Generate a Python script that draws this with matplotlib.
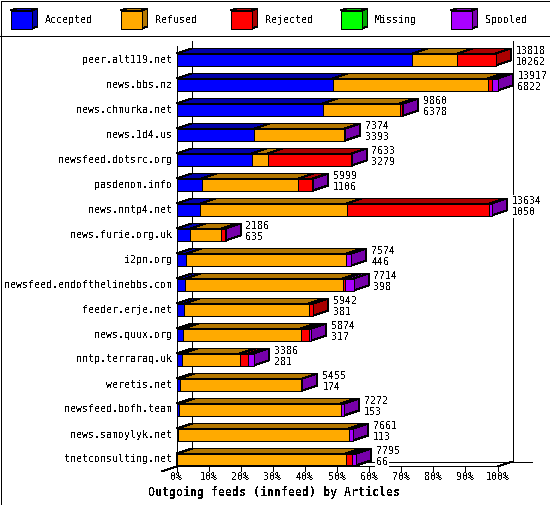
import matplotlib
matplotlib.use("Agg")
import matplotlib.pyplot as plt
from matplotlib.patches import Polygon, Rectangle

plt.rcParams['font.family'] = 'DejaVu Sans Mono'
plt.rcParams['text.antialiased'] = False

hosts = ["peer.alt119.net", "news.bbs.nz", "news.chmurka.net", "news.1d4.us",
         "newsfeed.dotsrc.org", "pasdenom.info", "news.nntp4.net", "news.furie.org.uk",
         "i2pn.org", "newsfeed.endofthelinebbs.com", "feeder.erje.net", "news.quux.org",
         "nntp.terraraq.uk", "weretis.net", "newsfeed.bofh.team", "news.samoylyk.net",
         "tnetconsulting.net"]
accepted = [73.5, 48.6, 45.5, 24.2, 23.4, 7.8, 7.4, 4.3, 3.0, 2.7, 2.4, 2.1, 1.7, 1.0, 0.8, 0.4, 0.2]
refused = [14.0, 48.3, 24.0, 28.3, 5.0, 30.2, 45.6, 9.7, 49.9, 49.1, 38.8, 36.7, 18.1, 38.2, 50.4, 53.2, 52.5]
rejected = [12.0, 1.5, 1.2, 0, 26.2, 4.5, 44.5, 1.3, 0, 0.7, 1.4, 2.5, 2.5, 0, 0, 0, 1.9]
missing = [0] * 17
spooled = [0, 1.6, 0.01, 0.01, 0.01, 0.01, 0.7, 0.01, 1.5, 2.7, 0, 0.7, 1.8, 0.01, 1.0, 1.4, 1.3]
offered = [13818, 13917, 9860, 7374, 7633, 5999, 13634, 2186, 7574, 7714, 5942, 5874, 3386, 5455, 7272, 7661, 7795]
articles = [10262, 6822, 6378, 3393, 3279, 1106, 1050, 635, 446, 398, 381, 317, 281, 174, 153, 113, 66]
series_names = ["Accepted", "Refused", "Rejected", "Missing", "Spooled"]
series_values = [accepted, refused, rejected, missing, spooled]
front_colors = ["#0000FF", "#FFAA00", "#FF0000", "#00FF00", "#AA00FF"]
dark_colors = ["#0000AA", "#B37700", "#AA0000", "#00AA00", "#7700AA"]
tick_values = list(range(0, 101, 10))

W, H = 550, 505
FS = 7.2
fig = plt.figure(figsize=(W / 100, H / 100), dpi=100, facecolor="white")

ov = fig.add_axes([0, 0, 1, 1])
ov.set_xlim(0, W)
ov.set_ylim(H, 0)
ov.axis("off")
LW = 0.72
def pline(a, xs, ys, z=0.5):
    a.plot(xs, ys, color="black", lw=LW, antialiased=False, solid_capstyle="butt", clip_on=False, zorder=z)

ov.add_patch(Rectangle((0.5, 0.5), W - 1, H - 1, fill=False, ec="black", lw=LW, antialiased=False))
pline(ov, [0, W], [35.5, 35.5])
for i, name in enumerate(series_names):
    x0 = 10.5 + 110 * i
    y0, y1 = 10.5, 28.5
    x1 = x0 + 21
    ov.add_patch(Polygon([(x0, y0), (x0 + 6, y0 - 2), (x1 + 6, y0 - 2), (x1, y0)], fc=dark_colors[i], ec="black", lw=LW, antialiased=False))
    ov.add_patch(Polygon([(x1, y0), (x1 + 6, y0 - 2), (x1 + 6, y1 - 2), (x1, y1)], fc=dark_colors[i], ec="black", lw=LW, antialiased=False))
    ov.add_patch(Rectangle((x0, y0), 21, 18, fc=front_colors[i], ec="black", lw=LW, antialiased=False))
    ov.text(x0 + 34.5, 20, name, fontsize=FS, va="center", ha="left")

X0, X1, YT, YB = 176.5, 497.5, 40.5, 466.5
ax = fig.add_axes([X0 / W, 1 - YB / H, (X1 - X0) / W, (YB - YT) / H])
ROW = 25.0
ax.set_xlim(0, 100)
ax.set_ylim((YB - 59.5) / ROW, (YT - 59.5) / ROW)
ax.axis("off")
ax.patch.set_alpha(0)
DX = 15 / ((X1 - X0) / 100)
DY = 5 / ROW
HALF = 6 / ROW

pline(ax, [0, 0], [(YB - 59.5) / ROW, (45.5 - 59.5) / ROW])
pline(ax, [DX, DX], [(460.5 - 59.5) / ROW, (YT - 59.5) / ROW])
pline(ax, [100 + DX, 100 + DX], [(460.5 - 59.5) / ROW, (YT - 59.5) / ROW])
yb = (YB - 59.5) / ROW
pline(ax, [-DX, 0, DX], [yb + DY, yb, yb - DY])
pline(ax, [0, 100, 100 + DX], [yb, yb, yb - DY])
pline(ax, [DX, 100 + DX + 19 / 3.21], [yb - DY, yb - DY])
for t in tick_values:
    pline(ax, [t, t], [yb, yb + 4 / ROW])
    ax.text(t, yb + 10.5 / ROW, f"{t}%", fontsize=FS, ha="center", va="center", clip_on=False)

for r, host in enumerate(hosts):
    ax.text(-4.5 / 3.21, r, host, fontsize=FS, ha="right", va="center", clip_on=False)
    left = 0.0
    top, bot = r - HALF, r + HALF
    for vals, fc, dc in zip(series_values, front_colors, dark_colors):
        v = vals[r]
        if v <= 0:
            continue
        right = left + v
        ax.add_patch(Polygon([(left, top), (left + DX, top - DY), (right + DX, top - DY), (right, top)],
                             fc=dc, ec="black", lw=LW, antialiased=False, clip_on=False, zorder=1))
        ax.add_patch(Polygon([(right, top), (right + DX, top - DY), (right + DX, bot - DY), (right, bot)],
                             fc=dc, ec="black", lw=LW, antialiased=False, clip_on=False, zorder=1))
        ax.add_patch(Rectangle((left, top), v, bot - top, fc=fc, ec="black", lw=LW, antialiased=False, clip_on=False, zorder=1))
        left = right
    lx = left + (15 + 5) / 3.21
    for txt, dy in ((offered[r], -8.5), (articles[r], 2.5)):
        ax.text(lx, r + dy / ROW, str(txt), fontsize=FS, ha="left", va="center", zorder=5,
                bbox=dict(fc="white", ec="none", pad=0.5), clip_on=False)

fig.text(274 / W, 1 - 492 / H, "Outgoing feeds (innfeed) by Articles", fontsize=8.4,
         fontweight="bold", ha="center", va="center")

fig.savefig("out.png", dpi=100, facecolor="white")
